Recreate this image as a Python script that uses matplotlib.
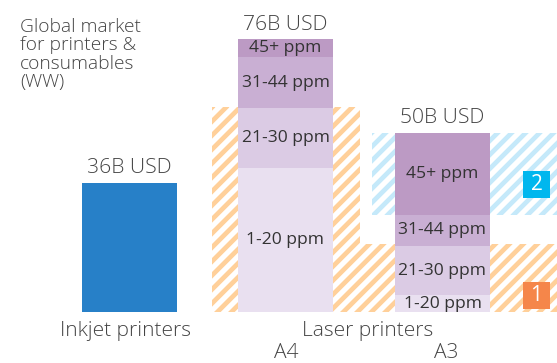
import matplotlib
matplotlib.use("Agg")
import matplotlib.pyplot as plt
from matplotlib.patches import Polygon, Rectangle

plt.rcParams['font.family'] = ['Open Sans', 'DejaVu Sans']

# Market size in billion USD
inkjet_total = 36
a4_total = 76
a3_total = 50
segment_labels = ["1-20 ppm", "21-30 ppm", "31-44 ppm", "45+ ppm"]
a4_values = [40.1, 16.7, 14.2, 5.0]
a3_values = [4.7, 13.7, 8.7, 22.9]
segment_colors = ["#E9E0F0", "#DBCBE4", "#C9AFD3", "#BC9AC4"]

# Heights of the hatched areas in billion USD
orange_tall = 57
orange_low = 19
blue_band = (27.1, 50)

PX_PER_B = 3.59
BASE_PY = 312
BAR_W = 95
STRIPE_STEP = 14  # horizontal distance between stripes, px


def py(p):
    # pixel row -> value on the y axis
    return (BASE_PY - p) / PX_PER_B


fig = plt.figure(figsize=(5.57, 3.63), dpi=100)
ax = fig.add_axes([0, 0, 1, 1])
ax.set_xlim(0, 557)
ax.set_ylim(py(363), py(0))
ax.axis('off')


def striped(corners, color):
    # 45 degree stripes clipped to a polygon
    shape = Polygon(corners, closed=True, fill=False, linewidth=0)
    ax.add_patch(shape)
    xs = [c[0] for c in corners]
    ys = [c[1] for c in corners]
    h_px = (max(ys) - min(ys)) * PX_PER_B
    x = min(xs) - h_px
    while x < max(xs):
        line, = ax.plot([x, x + h_px], [min(ys), max(ys)], color=color, lw=3.4,
                        solid_capstyle='projecting', zorder=1)
        line.set_clip_path(shape)
        x += STRIPE_STEP


# Background hatched regions
striped([(212, 0), (557, 0), (557, orange_low), (360, orange_low), (360, orange_tall), (212, orange_tall)],
        "#FFD09A")
striped([(372, blue_band[0]), (557, blue_band[0]), (557, blue_band[1]), (372, blue_band[1])],
        "#C5E9FA")

# Inkjet bar
ax.bar(82, inkjet_total, width=BAR_W, align='edge', color="#2780C8", zorder=2)


def stacked(x, values):
    bottom = 0
    for val, lab, col in zip(values, segment_labels, segment_colors):
        ax.bar(x, val, width=BAR_W, bottom=bottom, align='edge', color=col, zorder=2)
        ax.text(x + BAR_W / 2, bottom + val / 2, lab, ha='center', va='center',
                fontsize=12.6, color="#333333", zorder=3)
        bottom += val


stacked(238, a4_values)
stacked(395, a3_values)

# Totals above the bars
for x, total in [(82, inkjet_total), (238, a4_total), (395, a3_total)]:
    ax.text(x + BAR_W / 2, total + 1.2, f"{total}B USD", ha='center', va='bottom',
            fontsize=15.2, color="#444444", fontweight='light', zorder=3)

# Numbered badges
for top_p, col, num in [(282, "#F5864A", "1"), (171, "#00B7EE", "2")]:
    ax.add_patch(Rectangle((523, py(top_p + 27)), 27, 27 / PX_PER_B, color=col, linewidth=0, zorder=3))
    ax.text(536.5, py(top_p + 13.5), num, ha='center', va='center', color="white",
            fontsize=15, zorder=4)

# Axis captions
for x, y_p, caption in [(125, 331, "Inkjet printers"), (368, 331, "Laser printers"),
                        (286, 353.5, "A4"), (446, 353.5, "A3")]:
    ax.text(x, py(y_p), caption, ha='center', va='center', fontsize=15, color="#444444",
            fontweight='light')

# Heading
ax.text(20, py(18), "Global market\nfor printers &\nconsumables\n(WW)", ha='left', va='top',
        fontsize=13.8, color="#444444", linespacing=1.02, fontweight='light')

fig.savefig("out.png", dpi=100)
